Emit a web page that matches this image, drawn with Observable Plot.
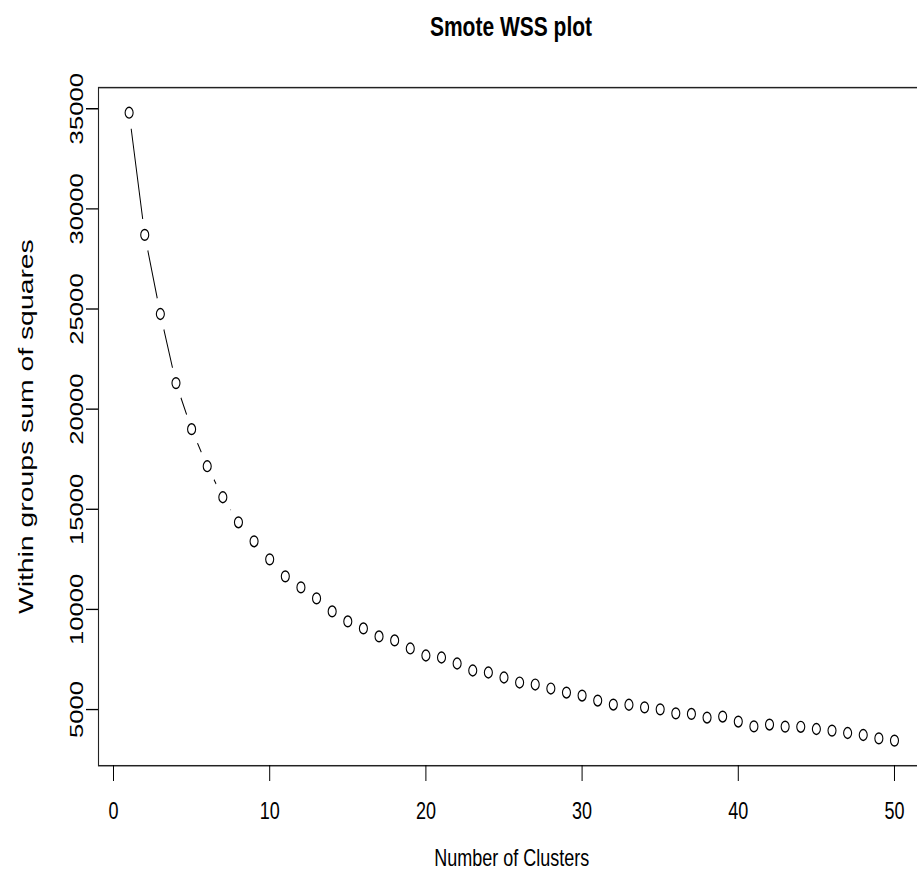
<!DOCTYPE html>
<html>
<head>
<meta charset="utf-8">
<script src="https://cdn.jsdelivr.net/npm/d3@7"></script>
<script src="https://cdn.jsdelivr.net/npm/@observablehq/plot@0.6"></script>
<style>
  html, body { margin: 0; padding: 0; background: white; }
  #outer {
    position: relative;
    width: 917px;
    height: 890px;
    overflow: hidden;
  }
  #page {
    position: absolute;
    left: 0;
    top: 0;
    width: 917px;
    height: 659.3px;
    transform: scaleY(1.35);
    transform-origin: 0 0;
    font-family: "Liberation Sans", Arial, Helvetica, sans-serif;
  }
  #title {
    height: 40px;
    line-height: 40px;
    box-sizing: border-box;
    padding-left: 105px;
    text-align: center;
    font-weight: bold;
    font-size: 21px;
    color: #000;
  }
</style>
</head>
<body>
<div id="outer">
  <div id="page">
    <div id="title">Smote WSS plot</div>
    <div id="chart"></div>
  </div>
</div>
<script>
// Number of clusters tried (k)
const clusters = [
  1, 2, 3, 4, 5, 6, 7, 8, 9, 10,
  11, 12, 13, 14, 15, 16, 17, 18, 19, 20,
  21, 22, 23, 24, 25, 26, 27, 28, 29, 30,
  31, 32, 33, 34, 35, 36, 37, 38, 39, 40,
  41, 42, 43, 44, 45, 46, 47, 48, 49, 50
];

// Total within-groups sum of squares for each k
const wss = [
  34800, 28700, 24750, 21300, 19000, 17150, 15600, 14350, 13400, 12500,
  11650, 11100, 10550, 9900, 9400, 9050, 8650, 8450, 8050, 7700,
  7600, 7300, 6950, 6850, 6600, 6350, 6250, 6050, 5850, 5700,
  5450, 5250, 5240, 5110, 5010, 4810, 4780, 4600, 4650, 4400,
  4160, 4250, 4150, 4140, 4030, 3950, 3830, 3730, 3560, 3450
];

const xTicks = [0, 10, 20, 30, 40, 50];
const yTicks = [5000, 10000, 15000, 20000, 25000, 30000, 35000];

const data = clusters.map((k, i) => ({k, wss: wss[i]}));

// base-graphics style axis ranges: data extent padded by 4% on each side
function padded([lo, hi]) {
  const d = (hi - lo) * 0.04;
  return [lo - d, hi + d];
}
const xDomain = padded(d3.extent(clusters));
const yDomain = padded(d3.extent(wss));

const font = '"Liberation Sans", Arial, Helvetica, sans-serif';

const chart = Plot.plot({
  width: 917,
  height: 619.3,
  marginLeft: 98,
  marginRight: -7.6,
  marginTop: 24.4,
  marginBottom: 92.6,
  style: {fontFamily: font, color: "black", background: "white", overflow: "hidden"},
  x: {domain: xDomain},
  y: {domain: yDomain},
  marks: [
    // connecting line, with gaps left around each point
    Plot.line(data, {x: "k", y: "wss", stroke: "black", strokeWidth: 1}),
    Plot.dot(data, {x: "k", y: "wss", r: 12, fill: "white", stroke: null}),
    // open circle points
    Plot.dot(data, {x: "k", y: "wss", r: 4, fill: "none", stroke: "black", strokeWidth: 1.1}),
    Plot.frame({stroke: "#222", strokeWidth: 1.1}),
    Plot.axisX({
      ticks: xTicks,
      tickSize: 11.8,
      tickPadding: 15,
      fontSize: 18,
      tickFormat: d => String(d),
      label: "Number of Clusters",
      labelAnchor: "center",
      labelArrow: "none",
      labelOffset: 74
    }),
    Plot.axisY({
      ticks: yTicks,
      tickSize: 12,
      tickPadding: 4,
      tickRotate: -90,
      fontSize: 19,
      tickFormat: d3.format("d"),
      label: "Within groups sum of squares",
      labelAnchor: "center",
      labelArrow: "none",
      labelOffset: 80
    })
  ]
});

// the y-axis title a little larger than the other axis text
d3.select(chart).selectAll("[aria-label='y-axis label'] text").attr("font-size", 21);

document.getElementById("chart").appendChild(chart);
</script>
</body>
</html>
